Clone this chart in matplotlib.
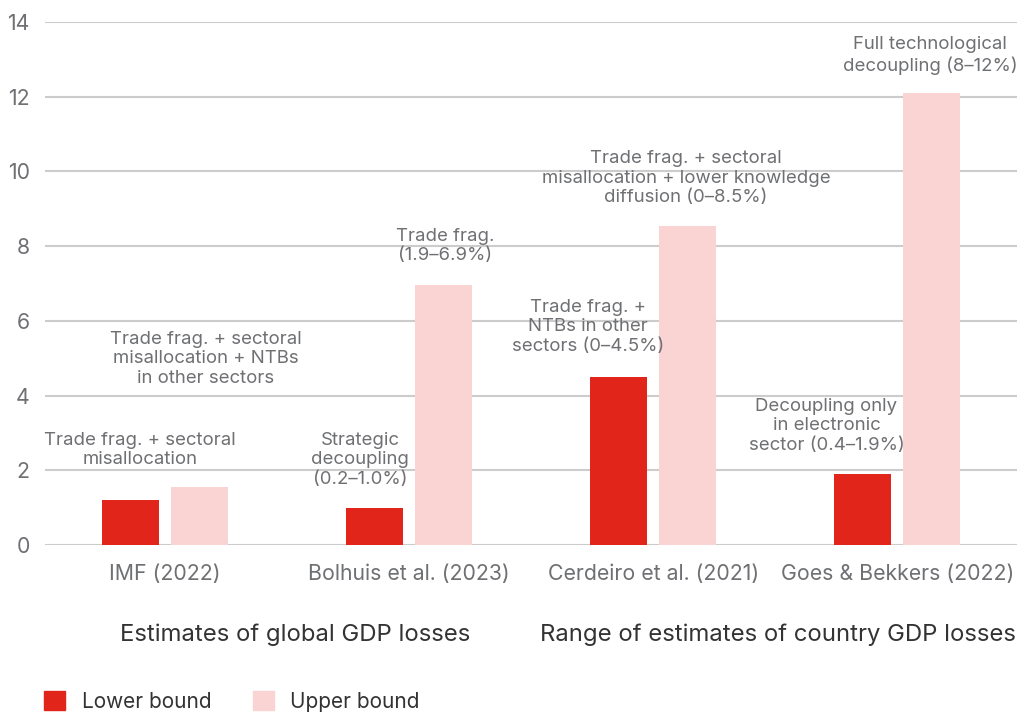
import numpy as np
import matplotlib.pyplot as plt
import matplotlib.transforms as mtransforms
from matplotlib.patches import Patch

plt.rcParams['font.family'] = ['Inter', 'DejaVu Sans']

# Data
studies = ["IMF (2022)", "Bolhuis et al. (2023)", "Cerdeiro et al. (2021)", "Goes & Bekkers (2022)"]
lower = [1.2, 1.0, 4.5, 1.9]
upper = [1.55, 6.95, 8.55, 12.1]
lower_notes = ["Trade frag. + sectoral\nmisallocation",
               "Strategic\ndecoupling\n(0.2–1.0%)",
               "Trade frag. +\nNTBs in other\nsectors (0–4.5%)",
               "Decoupling only\nin electronic\nsector (0.4–1.9%)"]
upper_notes = ["Trade frag. + sectoral\nmisallocation + NTBs\nin other sectors",
               "Trade frag.\n(1.9–6.9%)",
               "Trade frag. + sectoral\nmisallocation + lower knowledge\ndiffusion (0–8.5%)",
               "Full technological\ndecoupling (8–12%)"]
group_labels = ["Estimates of global GDP losses", "Range of estimates of country GDP losses"]

RED = "#e1251b"
PINK = "#fad3d3"
GREY = "#6f7073"
DARK = "#333333"

fig = plt.figure(figsize=(10.17, 7.15), dpi=100)
ax = fig.add_axes([0.0442, 0.2378, 0.9558, 0.7314])

x = np.arange(len(studies))
w = 0.233
off = 0.141
ax.bar(x - off, lower, w, color=RED, zorder=3)
ax.bar(x + off, upper, w, color=PINK, zorder=3)

ax.set_xlim(-0.49, 3.49)
ax.set_ylim(0, 14)
ax.set_yticks(range(0, 15, 2))
ax.grid(axis='y', color='#cccccc', linewidth=1.5, zorder=0)
ax.set_axisbelow(True)
for s in ax.spines.values():
    s.set_visible(False)
ax.tick_params(axis='both', length=0, labelsize=15.3, labelcolor=GREY)
ax.tick_params(axis='y', pad=11)
ax.tick_params(axis='x', pad=14)
ax.set_xticks(x)
ax.set_xticklabels(studies)

# annotations (offsets in data units from bar centre)
lower_pos = [(-0.10, 2.54), (-0.20, 2.28), (-0.265, 5.84), (-0.29, 3.19)]
upper_pos = [(0.167, 4.98), (0.147, 8.0), (0.135, 9.82), (0.135, 13.1)]
for i in range(len(studies)):
    ax.text(x[i] + lower_pos[i][0], lower_pos[i][1], lower_notes[i], ha='center', va='center',
            fontsize=13.4, color=GREY, linespacing=1.2, zorder=4)
    ax.text(x[i] + upper_pos[i][0], upper_pos[i][1], upper_notes[i], ha='center', va='center',
            fontsize=13.4, color=GREY, linespacing=1.2, zorder=4)

# group labels under the axis
trans = mtransforms.blended_transform_factory(ax.transData, fig.transFigure)
ax.text(0.535, 0.112, group_labels[0], transform=trans, ha='center', va='center',
        fontsize=17.2, color=DARK)
ax.text(2.51, 0.112, group_labels[1], transform=trans, ha='center', va='center',
        fontsize=17.2, color=DARK)

handles = [Patch(color=RED, label="Lower bound"), Patch(color=PINK, label="Upper bound")]
fig.legend(handles=handles, loc='center left', bbox_to_anchor=(0.025, 0.019), ncol=2,
           frameon=False, fontsize=15, handlelength=1.0, handleheight=1.0,
           handletextpad=0.8, columnspacing=2.0, labelcolor=DARK)

fig.savefig("out.png", dpi=100)
